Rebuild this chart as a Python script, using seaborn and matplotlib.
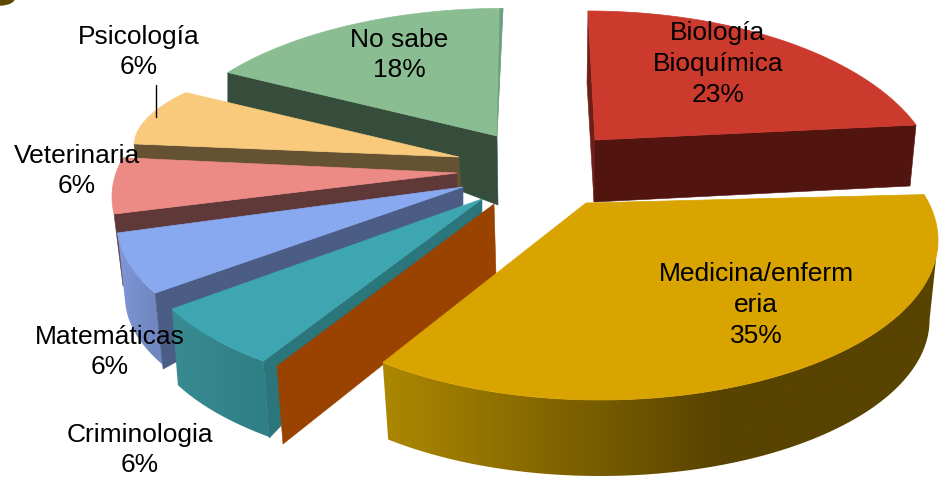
import numpy as np
import matplotlib
matplotlib.use("Agg")
import matplotlib.pyplot as plt
from matplotlib.colors import to_rgb
from matplotlib.patches import Ellipse, Polygon
import seaborn as sns

# ---- data ----
categories = ["Biología\nBioquímica", "Medicina/enferm\neria", "Criminologia",
              "Matemáticas", "Veterinaria", "Psicología", "No sabe"]
values = [23, 35, 6, 6, 6, 6, 18]

# ---- styles and layout (pixels of the 940x479 canvas) ----
top_colors = ["#cb3a2c", "#d9a300", "#3da6b0", "#88a8f0", "#ec8a86", "#f9c97c", "#8abd91"]
apex = [(595, 140), (586, 203), (482, 199), (463, 187), (457, 173), (459, 157), (497, 136)]
centre = [(588, 186), (600, 240), (500, 246.5), (477, 225), (470, 197), (470, 146), (503, 170)]
radii = [(350, 175), (338, 160), (360, 152), (360, 152), (358, 160), (336, 100), (345, 161.6)]
warp = [(0, -13.2), (-9.3, 11.2), (12.3, 15.3), (13, 15), (11.9, 10.6), (-2.4, 7.1), (11.9, 0)]
label_pos = [(718, 64), (756, 305), (140, 450), (110, 352), (77, 171), (139, 52), (399, 55)]

sns.set_theme(style="white")
plt.rcParams["font.family"] = ["Liberation Sans", "DejaVu Sans"]

fig, ax = plt.subplots(figsize=(9.4, 4.79), dpi=100)
ax.set_position([0, 0, 1, 1])
ax.set_xlim(0, 940)
ax.set_ylim(479, 0)
ax.set_autoscale_on(False)
ax.axis("off")

edges = np.cumsum([0] + values) / sum(values) * 360.0


def outer(i, theta):
    t = np.radians(theta)
    cx, cy = centre[i]
    rx, ry = radii[i]
    return np.column_stack([cx + rx * np.sin(t), cy - ry * np.cos(t)])


def arc(i, n=120, start=None):
    a0 = edges[i] + warp[i][0] if start is None else start
    a1 = edges[i + 1] + warp[i][1]
    return outer(i, np.linspace(a0, a1, n))


def top(i, z):
    ax.fill(*np.vstack([[apex[i]], arc(i)]).T, color=top_colors[i], lw=0.5, zorder=z)


def quad(p, q, dp, dq, color, z):
    pts = [p, q, (q[0] + dq[0], q[1] + dq[1]), (p[0] + dp[0], p[1] + dp[1])]
    ax.fill(*np.array(pts).T, color=color, lw=0.4, zorder=z)


def rim(i, d, c0, c1, z, x0=None, x1=None, s=1.0, start=None):
    a = arc(i, start=start)
    c = np.array(centre[i])
    b = c + (a - c) * s + np.array(d)
    outline = np.vstack([a, b[::-1]])
    x0 = a[:, 0].min() if x0 is None else x0
    x1 = a[:, 0].max() if x1 is None else x1
    xs = np.arange(np.floor(outline[:, 0].min()), np.ceil(outline[:, 0].max()) + 1)
    f = np.clip((xs - x0) / (x1 - x0), 0, 1)[None, :, None]
    img = np.array(to_rgb(c0))[None, None, :] * (1 - f) + np.array(to_rgb(c1))[None, None, :] * f
    patch = Polygon(outline, closed=True, transform=ax.transData, fc="none", ec="none")
    ax.add_patch(patch)
    ax.imshow(img, extent=[xs[0], xs[-1], outline[:, 1].max(), outline[:, 1].min()],
              aspect="auto", interpolation="bilinear", clip_path=patch, zorder=z)


def first(i):
    return tuple(arc(i, 2)[0])


def last(i):
    return tuple(arc(i, 2)[1])


BIO, MED, CRI, MAT, VET, PSI, NOS = range(7)

# No sabe
quad(apex[NOS], first(NOS), (1, 69), (0, 31), "#354d3a", 1)
top(NOS, 2)
quad(apex[NOS], last(NOS), (0, 0), (-3, 0), "#6e9f7e", 3)

# Psicología
quad(apex[PSI], first(PSI), (2, 30), (1, 14), "#645232", 4)
top(PSI, 5)

# Veterinaria
quad(apex[VET], first(VET), (0, 15), (9, 72), "#5f3838", 6)
top(VET, 7)

# Matemáticas
rim(MAT, (8, 72), "#7f97d8", "#7087c0", 8)
quad(apex[MAT], first(MAT), (0, 18), (8, 76), "#4b5c85", 9)
top(MAT, 10)

# Criminologia
rim(CRI, (6, 76), "#378b91", "#2f8086", 11)
quad(apex[CRI], first(CRI), (0, 14), (6, 77), "#2a767b", 12)
top(CRI, 13)

# Biología
quad(apex[BIO], first(BIO), (-1, 62), (-1, 72), "#6e1f16", 14)
quad(apex[BIO], last(BIO), (-1, 62), (-6, 61), "#52140f", 15)
top(BIO, 16)

# Medicina
cut_top = (494, 204)
cut_out = (277, 366)
quad(cut_top, cut_out, (2, 71), (6, 78), "#9a4200", 17)
rim(MED, (0, 80), "#ad8800", "#584300", 18, x0=382, x1=720, s=0.975, start=90)
top(MED, 19)

# piece of a neighbouring shape at the corner of the picture
ax.add_patch(Ellipse((0, -3), 30, 16, color="#5c4800", zorder=1))

# leader line of Psicología
ax.plot([156, 156], [85, 117], color="black", lw=1, zorder=20)

for name, val, (x, y) in zip(categories, values, label_pos):
    ax.text(x, y, f"{name}\n{val}%", ha="center", va="center", fontsize=19,
            color="black", linespacing=1.35, zorder=30)

fig.savefig("out.png", dpi=100)
